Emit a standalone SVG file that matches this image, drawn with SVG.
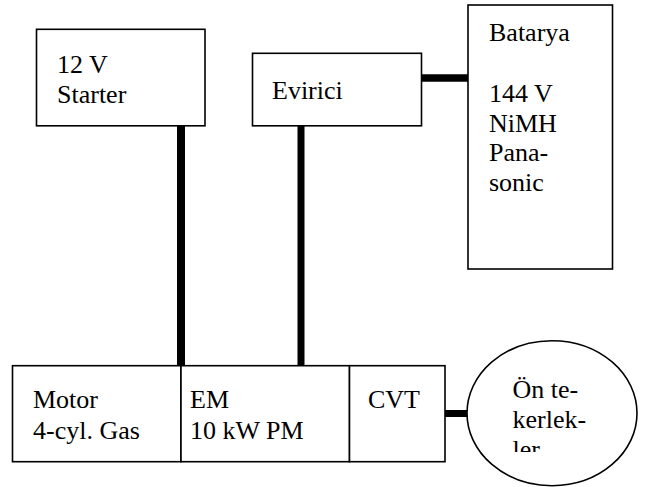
<svg xmlns="http://www.w3.org/2000/svg" width="645" height="487" viewBox="0 0 645 487">
<rect width="645" height="487" fill="#fff"/>
<g id="connectors">
<line x1="181" y1="126" x2="181" y2="366" stroke="#000" stroke-width="8"/>
<line x1="301" y1="126" x2="301" y2="366" stroke="#000" stroke-width="7"/>
<line x1="421" y1="78" x2="468" y2="78" stroke="#000" stroke-width="7.5"/>
<line x1="445" y1="413.5" x2="468" y2="413.5" stroke="#000" stroke-width="7"/>
</g>
<g id="starter">
<rect x="36.5" y="29.3" width="168.5" height="96.5" fill="#fff" stroke="#000" stroke-width="1.6"/>
<text x="57" y="73" style="font-family:'Liberation Serif','Times New Roman',serif;font-size:26px">12 V</text>
<text x="57" y="102.5" style="font-family:'Liberation Serif','Times New Roman',serif;font-size:26px">Starter</text>
</g>
<g id="evirici">
<rect x="252.5" y="53.3" width="169" height="72.5" fill="#fff" stroke="#000" stroke-width="1.6"/>
<text x="272" y="99" style="font-family:'Liberation Serif','Times New Roman',serif;font-size:26px">Evirici</text>
</g>
<g id="batarya">
<rect x="468" y="5" width="144.5" height="264" fill="#fff" stroke="#000" stroke-width="1.6"/>
<text x="489" y="41" style="font-family:'Liberation Serif','Times New Roman',serif;font-size:26px">Batarya</text>
<text x="489" y="101.5" style="font-family:'Liberation Serif','Times New Roman',serif;font-size:26px">144 V</text>
<text x="489" y="131.5" style="font-family:'Liberation Serif','Times New Roman',serif;font-size:26px">NiMH</text>
<text x="489" y="161" style="font-family:'Liberation Serif','Times New Roman',serif;font-size:26px">Pana-</text>
<text x="489" y="191" style="font-family:'Liberation Serif','Times New Roman',serif;font-size:26px">sonic</text>
</g>
<g id="motor">
<rect x="12.5" y="365.7" width="168.5" height="96" fill="#fff" stroke="#000" stroke-width="1.6"/>
<text x="33" y="408.3" style="font-family:'Liberation Serif','Times New Roman',serif;font-size:26px">Motor</text>
<text x="33" y="439" style="font-family:'Liberation Serif','Times New Roman',serif;font-size:26px">4-cyl. Gas</text>
</g>
<g id="em">
<rect x="181" y="365.7" width="168.5" height="96" fill="#fff" stroke="#000" stroke-width="1.6"/>
<text x="190" y="408.3" style="font-family:'Liberation Serif','Times New Roman',serif;font-size:26px">EM</text>
<text x="190" y="439" style="font-family:'Liberation Serif','Times New Roman',serif;font-size:26px">10 kW PM</text>
</g>
<g id="cvt">
<rect x="349.5" y="365.7" width="95.5" height="96" fill="#fff" stroke="#000" stroke-width="1.6"/>
<text x="368" y="408.3" style="font-family:'Liberation Serif','Times New Roman',serif;font-size:26px">CVT</text>
</g>
<g id="tekerlekler">
<ellipse cx="552" cy="413.2" rx="85" ry="72.5" fill="#fff"/>
<text x="512.5" y="398.3" style="font-family:'Liberation Serif','Times New Roman',serif;font-size:26px">&#214;n te-</text>
<text x="512.5" y="428.3" style="font-family:'Liberation Serif','Times New Roman',serif;font-size:26px">kerlek-</text>
<text x="512.5" y="458.3" style="font-family:'Liberation Serif','Times New Roman',serif;font-size:26px">ler</text>
<rect x="508" y="452" width="50" height="14" fill="#fff"/>
<ellipse cx="552" cy="413.2" rx="85" ry="72.5" fill="none" stroke="#000" stroke-width="1.6"/>
</g>
</svg>
